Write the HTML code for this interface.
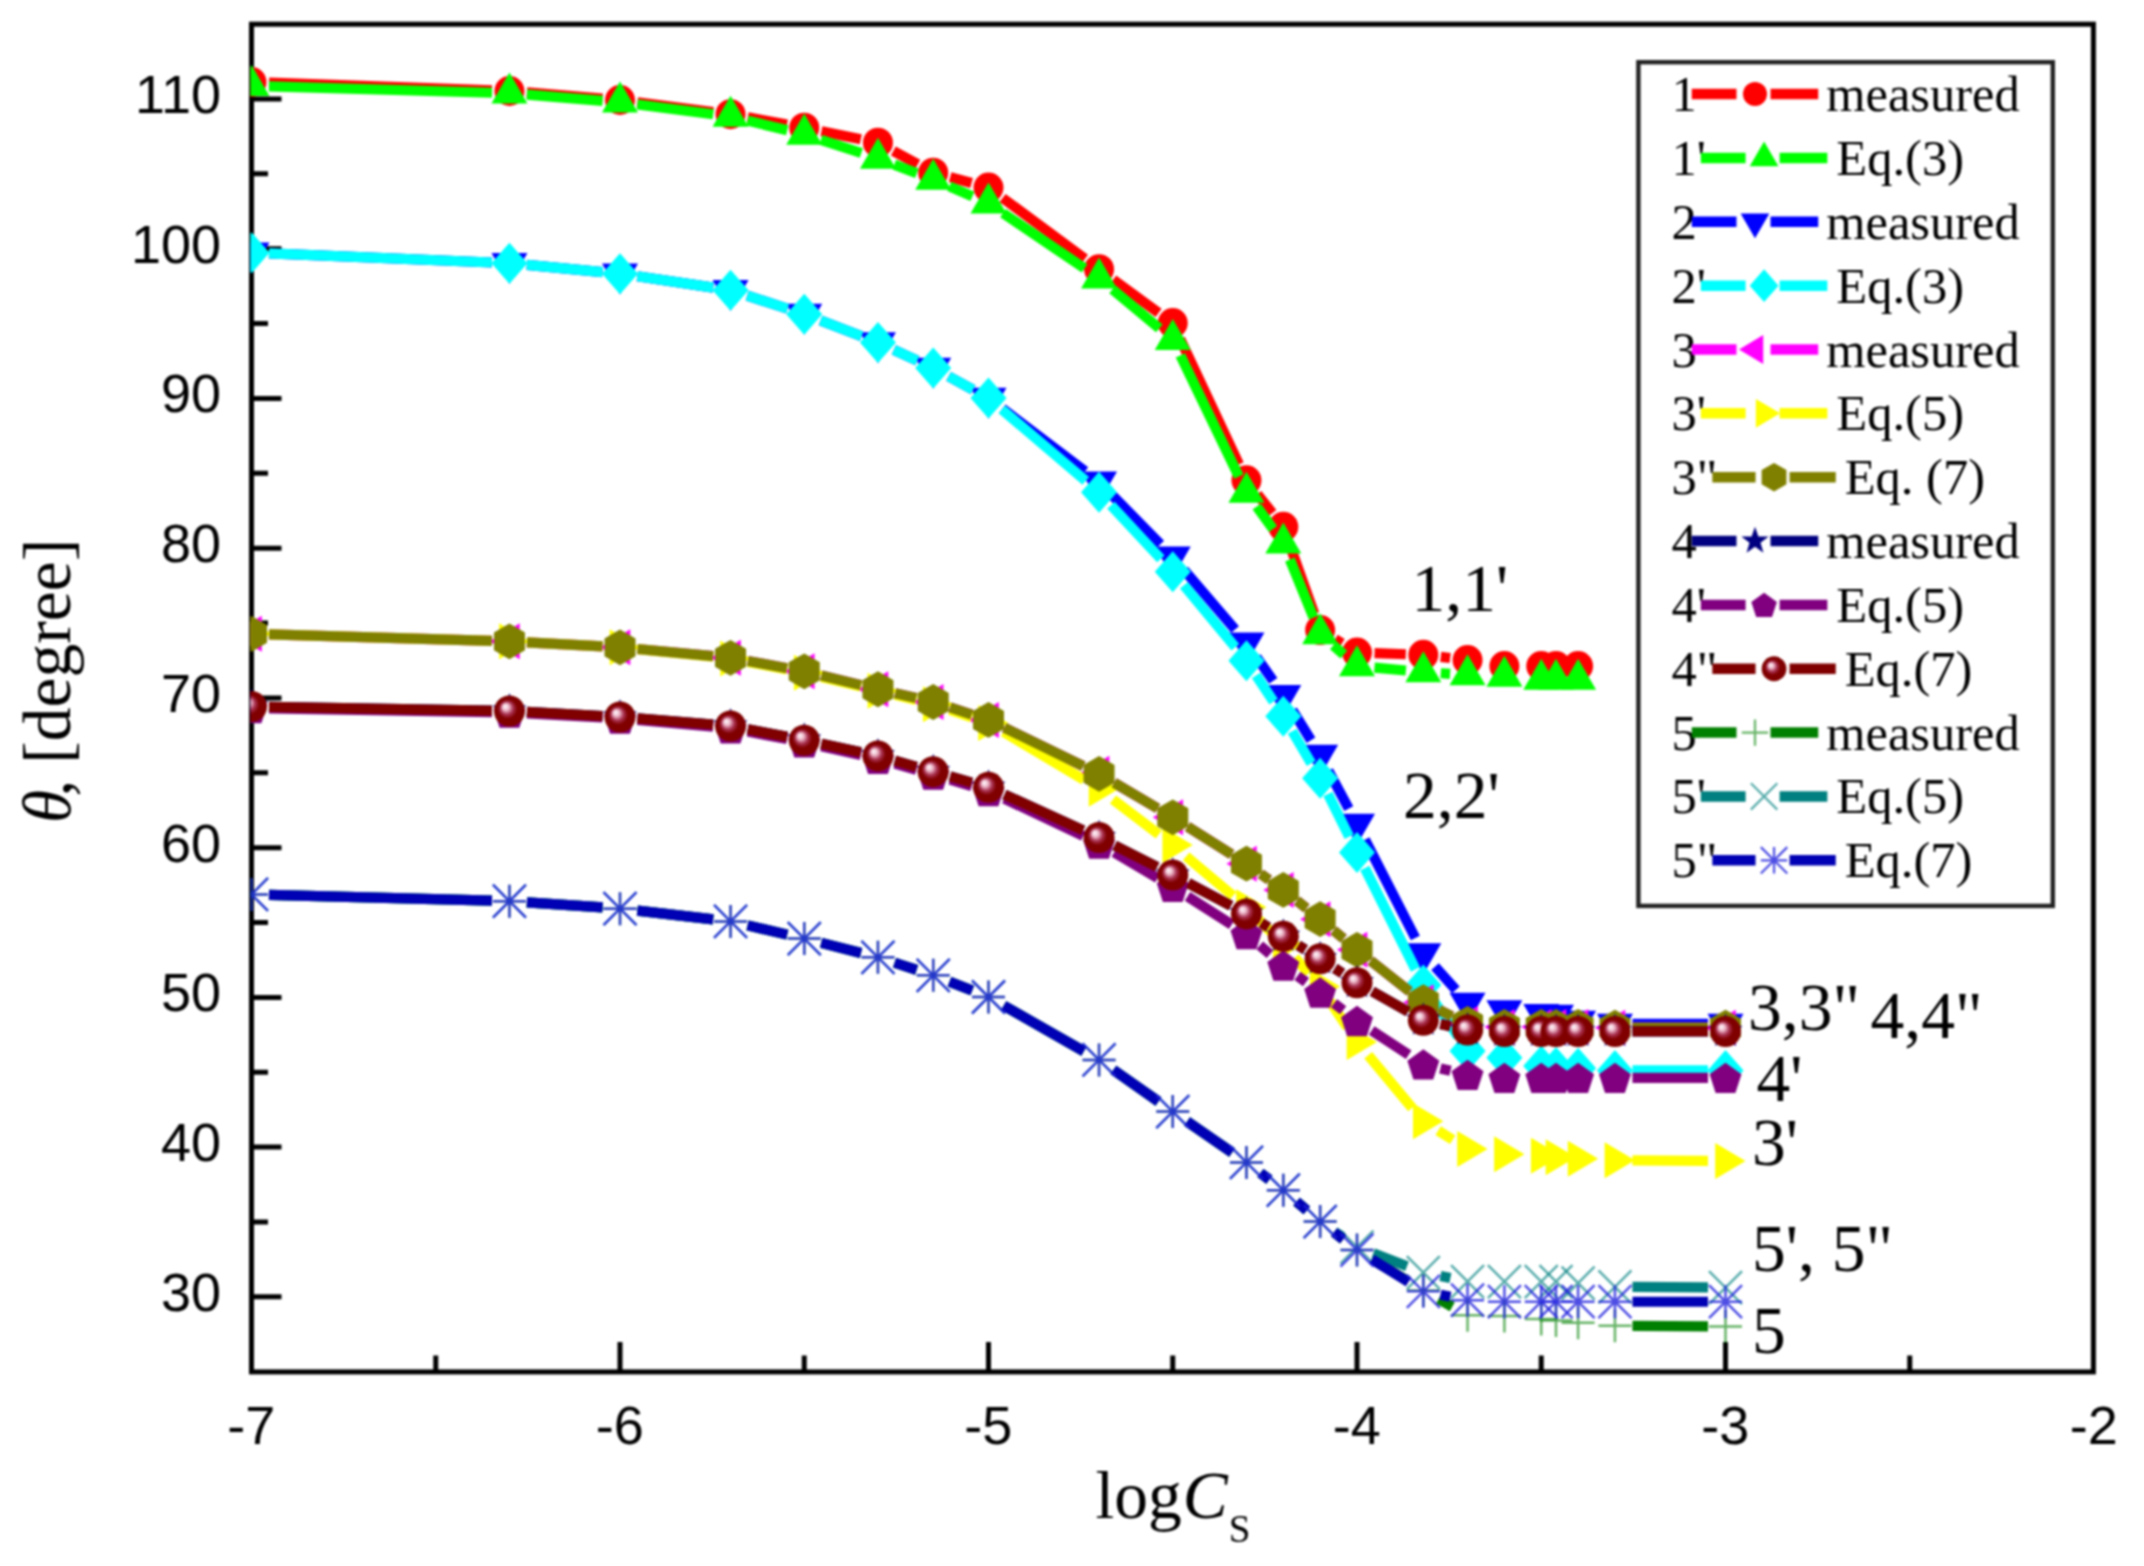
<!DOCTYPE html>
<html lang="en"><head><meta charset="utf-8"><title>Contact angle versus logCs</title>
<style>html,body{margin:0;padding:0;background:#fff}body{width:2144px;height:1566px;overflow:hidden}svg{display:block;filter:blur(0.9px)}text{fill:#000}.ser{font-family:"Liberation Serif",serif}.san{font-family:"Liberation Sans",sans-serif}</style>
</head><body>
<svg width="2144" height="1566" viewBox="0 0 2144 1566">
<defs>
<radialGradient id="sph" cx="0.5" cy="0.5" r="0.5" fx="0.35" fy="0.34"><stop offset="0" stop-color="#fff"/><stop offset="0.2" stop-color="#f0c0d0"/><stop offset="0.42" stop-color="#a83050"/><stop offset="0.62" stop-color="#800000"/><stop offset="1" stop-color="#800000"/></radialGradient>
<clipPath id="clip"><rect x="250.4" y="24.2" width="1843" height="1347.7"/></clipPath>
</defs>
<rect width="2144" height="1566" fill="#fff"/>
<g>
<g stroke="#000" stroke-width="5.0" fill="none">
<rect x="251.5" y="24.2" width="1841.9" height="1347.7"/>
<path d="M251.5 1296.84h30M251.5 1221.98h16.5M251.5 1147.11h30M251.5 1072.24h16.5M251.5 997.38h30M251.5 922.51h16.5M251.5 847.65h30M251.5 772.79h16.5M251.5 697.92h30M251.5 623.06h16.5M251.5 548.19h30M251.5 473.33h16.5M251.5 398.46h30M251.5 323.6h16.5M251.5 248.73h30M251.5 173.87h16.5M251.5 99h30M435.75 1371.9v-16.5M620 1371.9v-30M804.25 1371.9v-16.5M988.5 1371.9v-30M1172.75 1371.9v-16.5M1357 1371.9v-30M1541.25 1371.9v-16.5M1725.5 1371.9v-30M1909.75 1371.9v-16.5"/>
</g>
<g class="san" font-size="54" text-anchor="end">
<text x="221" y="1310.84">30</text>
<text x="221" y="1161.11">40</text>
<text x="221" y="1011.38">50</text>
<text x="221" y="861.65">60</text>
<text x="221" y="711.92">70</text>
<text x="221" y="562.19">80</text>
<text x="221" y="412.46">90</text>
<text x="221" y="262.73">100</text>
<text x="221" y="113">110</text>
</g>
<g class="san" font-size="54" text-anchor="middle">
<text x="251.2" y="1444.3">-7</text>
<text x="619.7" y="1444.3">-6</text>
<text x="988.2" y="1444.3">-5</text>
<text x="1356.7" y="1444.3">-4</text>
<text x="1725.2" y="1444.3">-3</text>
<text x="2093.7" y="1444.3">-2</text>
</g>
<text class="ser" font-size="67.5" font-style="italic" transform="translate(70.3 823) rotate(-90)">θ</text>
<text class="ser" font-size="67.5" transform="translate(70.3 796.5) rotate(-90)">,</text>
<text class="ser" font-size="67.5" transform="translate(70.3 763.7) rotate(-90)">[degree]</text>
<text class="ser" font-size="67.5" x="1095.5" y="1517.7">log<tspan font-style="italic" dx="1">C</tspan><tspan font-size="39" dy="24.6" dx="1">S</tspan></text>
<g clip-path="url(#clip)">
<g><path d="M268.99 82.64L491.96 90.4M526.89 92.43L602.56 98.58M637.36 102.23L713.19 111.99M747.76 117.37L787.04 124.55M821.4 131.19L860.8 139.19M893.34 151.01L917.84 164.29M950.12 177.2L971.61 183.03M1002.58 198L1084.97 258.82M1113.17 279.55L1158.63 312.79M1180.18 338.97L1239.02 464.52M1257.33 494.07L1272.42 513.08M1289.18 543.27L1314.27 613.63M1335.09 639.22L1342.06 643.47M1374.49 653.17L1405.84 654.23M1440.71 656.88L1450.17 658" stroke="#ff0000" stroke-width="10.2" fill="none"/>
<circle cx="251.5" cy="82.03" r="15" fill="#ff0000"/>
<circle cx="509.45" cy="91.01" r="15" fill="#ff0000"/>
<circle cx="620" cy="100" r="15" fill="#ff0000"/>
<circle cx="730.55" cy="114.22" r="15" fill="#ff0000"/>
<circle cx="804.25" cy="127.7" r="15" fill="#ff0000"/>
<circle cx="877.95" cy="142.68" r="15" fill="#ff0000"/>
<circle cx="933.22" cy="172.63" r="15" fill="#ff0000"/>
<circle cx="988.5" cy="187.6" r="15" fill="#ff0000"/>
<circle cx="1099.05" cy="269.22" r="15" fill="#ff0000"/>
<circle cx="1172.75" cy="323.12" r="15" fill="#ff0000"/>
<circle cx="1246.45" cy="480.36" r="15" fill="#ff0000"/>
<circle cx="1283.3" cy="526.78" r="15" fill="#ff0000"/>
<circle cx="1320.15" cy="630.11" r="15" fill="#ff0000"/>
<circle cx="1357" cy="652.57" r="15" fill="#ff0000"/>
<circle cx="1423.33" cy="654.82" r="15" fill="#ff0000"/>
<circle cx="1467.55" cy="660.06" r="15" fill="#ff0000"/>
<circle cx="1504.4" cy="666.05" r="15" fill="#ff0000"/>
<circle cx="1541.25" cy="666.05" r="15" fill="#ff0000"/>
<circle cx="1555.99" cy="666.05" r="15" fill="#ff0000"/>
<circle cx="1578.1" cy="666.05" r="15" fill="#ff0000"/>
</g>
<g><path d="M268.99 86.28L491.96 92.75M526.89 94.68L602.56 100.83M637.36 104.48L713.19 114.24M747.55 120.62L787.25 130.29M820.89 139.85L861.31 152.99M894.31 164.61L916.86 173.16M949.28 186.32L972.44 196.37M1002.99 213.14L1084.56 268.39M1112.5 289.4L1159.3 328.4M1180.35 355.36L1238.85 476.58M1256.71 506.52L1273.04 529.08M1289.89 559.47L1313.56 617.65M1333.33 645.37L1343.82 654.54M1374.43 667.63L1405.9 670.47M1440.79 673.23L1450.09 673.85" stroke="#00ff00" stroke-width="10.2" fill="none"/>
<polygon points="251.5,65.07 233.5,96.07 269.5,96.07" fill="#00ff00"/>
<polygon points="509.45,72.56 491.45,103.56 527.45,103.56" fill="#00ff00"/>
<polygon points="620,81.54 602,112.54 638,112.54" fill="#00ff00"/>
<polygon points="730.55,95.77 712.55,126.77 748.55,126.77" fill="#00ff00"/>
<polygon points="804.25,113.74 786.25,144.74 822.25,144.74" fill="#00ff00"/>
<polygon points="877.95,137.7 859.95,168.7 895.95,168.7" fill="#00ff00"/>
<polygon points="933.22,158.67 915.22,189.67 951.22,189.67" fill="#00ff00"/>
<polygon points="988.5,182.62 970.5,213.62 1006.5,213.62" fill="#00ff00"/>
<polygon points="1099.05,257.5 1081.05,288.5 1117.05,288.5" fill="#00ff00"/>
<polygon points="1172.75,318.9 1154.75,349.9 1190.75,349.9" fill="#00ff00"/>
<polygon points="1246.45,471.64 1228.45,502.64 1264.45,502.64" fill="#00ff00"/>
<polygon points="1283.3,522.56 1265.3,553.56 1301.3,553.56" fill="#00ff00"/>
<polygon points="1320.15,613.16 1302.15,644.16 1338.15,644.16" fill="#00ff00"/>
<polygon points="1357,645.35 1339,676.35 1375,676.35" fill="#00ff00"/>
<polygon points="1423.33,651.34 1405.33,682.34 1441.33,682.34" fill="#00ff00"/>
<polygon points="1467.55,654.34 1449.55,685.34 1485.55,685.34" fill="#00ff00"/>
<polygon points="1504.4,655.83 1486.4,686.83 1522.4,686.83" fill="#00ff00"/>
<polygon points="1541.25,658.83 1523.25,689.83 1559.25,689.83" fill="#00ff00"/>
<polygon points="1555.99,658.83 1537.99,689.83 1573.99,689.83" fill="#00ff00"/>
<polygon points="1578.1,658.83 1560.1,689.83 1596.1,689.83" fill="#00ff00"/>
</g>
<g><path d="M268.99 253.45L491.96 262.51M526.87 264.88L602.58 272.06M637.31 276.29L713.24 287.6M747.19 295.59L787.61 308.73M820.58 320.44L861.62 336.29M893.85 349.91L917.33 360.73M948.61 376.39L973.11 389.66M1002.44 408.58L1085.11 471.28M1111.33 494.33L1160.47 544.26M1184.13 570.03L1235.07 629.55M1256.52 657.16L1273.23 680.94M1292.47 710.16L1310.98 740.25M1328.4 770.58L1348.75 808.61M1364.98 839.62L1415.35 938M1435 966.61L1455.88 989.95M1632.45 1023.95L1708 1023.95" stroke="#0000ff" stroke-width="10.2" fill="none"/>
<polygon points="251.5,273.44 233.5,242.44 269.5,242.44" fill="#0000ff"/>
<polygon points="509.45,283.93 491.45,252.93 527.45,252.93" fill="#0000ff"/>
<polygon points="620,294.41 602,263.41 638,263.41" fill="#0000ff"/>
<polygon points="730.55,310.88 712.55,279.88 748.55,279.88" fill="#0000ff"/>
<polygon points="804.25,334.84 786.25,303.84 822.25,303.84" fill="#0000ff"/>
<polygon points="877.95,363.29 859.95,332.29 895.95,332.29" fill="#0000ff"/>
<polygon points="933.22,388.75 915.22,357.75 951.22,357.75" fill="#0000ff"/>
<polygon points="988.5,418.7 970.5,387.7 1006.5,387.7" fill="#0000ff"/>
<polygon points="1099.05,502.56 1081.05,471.56 1117.05,471.56" fill="#0000ff"/>
<polygon points="1172.75,577.43 1154.75,546.43 1190.75,546.43" fill="#0000ff"/>
<polygon points="1246.45,663.54 1228.45,632.54 1264.45,632.54" fill="#0000ff"/>
<polygon points="1283.3,715.95 1265.3,684.95 1301.3,684.95" fill="#0000ff"/>
<polygon points="1320.15,775.85 1302.15,744.85 1338.15,744.85" fill="#0000ff"/>
<polygon points="1357,844.74 1339,813.74 1375,813.74" fill="#0000ff"/>
<polygon points="1423.33,974.27 1405.33,943.27 1441.33,943.27" fill="#0000ff"/>
<polygon points="1467.55,1023.69 1449.55,992.69 1485.55,992.69" fill="#0000ff"/>
<polygon points="1504.4,1031.18 1486.4,1000.18 1522.4,1000.18" fill="#0000ff"/>
<polygon points="1541.25,1034.92 1523.25,1003.92 1559.25,1003.92" fill="#0000ff"/>
<polygon points="1555.99,1035.67 1537.99,1004.67 1573.99,1004.67" fill="#0000ff"/>
<polygon points="1578.1,1041.66 1560.1,1010.66 1596.1,1010.66" fill="#0000ff"/>
<polygon points="1614.95,1044.65 1596.95,1013.65 1632.95,1013.65" fill="#0000ff"/>
<polygon points="1725.5,1044.65 1707.5,1013.65 1743.5,1013.65" fill="#0000ff"/>
</g>
<g><path d="M268.99 253.45L491.96 262.51M526.87 264.88L602.58 272.06M637.31 276.29L713.24 287.6M747.19 295.59L787.61 308.73M820.58 320.44L861.62 336.29M893.85 349.91L917.33 360.73M948.61 376.39L973.11 389.66M1001.81 409.36L1085.74 480.98M1110.96 505.17L1160.84 558.89M1183.9 585.19L1235.3 647.33M1256.14 675.38L1273.61 701.65M1292.23 731.27L1311.22 763.31M1327.94 794.04L1349.21 836.82M1364.83 868.14L1415.5 969.37M1433.08 999.55L1457.8 1036.38M1632.45 1070.38L1708 1070.38" stroke="#00ffff" stroke-width="10.2" fill="none"/>
<polygon points="251.5,232.24 269.5,252.74 251.5,273.24 233.5,252.74" fill="#00ffff"/>
<polygon points="509.45,242.73 527.45,263.23 509.45,283.73 491.45,263.23" fill="#00ffff"/>
<polygon points="620,253.21 638,273.71 620,294.21 602,273.71" fill="#00ffff"/>
<polygon points="730.55,269.68 748.55,290.18 730.55,310.68 712.55,290.18" fill="#00ffff"/>
<polygon points="804.25,293.64 822.25,314.14 804.25,334.64 786.25,314.14" fill="#00ffff"/>
<polygon points="877.95,322.09 895.95,342.59 877.95,363.09 859.95,342.59" fill="#00ffff"/>
<polygon points="933.22,347.55 951.22,368.05 933.22,388.55 915.22,368.05" fill="#00ffff"/>
<polygon points="988.5,377.5 1006.5,398 988.5,418.5 970.5,398" fill="#00ffff"/>
<polygon points="1099.05,471.84 1117.05,492.34 1099.05,512.84 1081.05,492.34" fill="#00ffff"/>
<polygon points="1172.75,551.21 1190.75,571.71 1172.75,592.21 1154.75,571.71" fill="#00ffff"/>
<polygon points="1246.45,640.31 1264.45,660.81 1246.45,681.31 1228.45,660.81" fill="#00ffff"/>
<polygon points="1283.3,695.72 1301.3,716.22 1283.3,736.72 1265.3,716.22" fill="#00ffff"/>
<polygon points="1320.15,757.87 1338.15,778.37 1320.15,798.87 1302.15,778.37" fill="#00ffff"/>
<polygon points="1357,831.99 1375,852.49 1357,872.99 1339,852.49" fill="#00ffff"/>
<polygon points="1423.33,964.52 1441.33,985.02 1423.33,1005.52 1405.33,985.02" fill="#00ffff"/>
<polygon points="1467.55,1030.41 1485.55,1050.91 1467.55,1071.41 1449.55,1050.91" fill="#00ffff"/>
<polygon points="1504.4,1037.15 1522.4,1057.65 1504.4,1078.15 1486.4,1057.65" fill="#00ffff"/>
<polygon points="1541.25,1045.38 1559.25,1065.88 1541.25,1086.38 1523.25,1065.88" fill="#00ffff"/>
<polygon points="1555.99,1046.88 1573.99,1067.38 1555.99,1087.88 1537.99,1067.38" fill="#00ffff"/>
<polygon points="1578.1,1047.63 1596.1,1068.13 1578.1,1088.63 1560.1,1068.13" fill="#00ffff"/>
<polygon points="1614.95,1049.88 1632.95,1070.38 1614.95,1090.88 1596.95,1070.38" fill="#00ffff"/>
<polygon points="1725.5,1049.88 1743.5,1070.38 1725.5,1090.88 1707.5,1070.38" fill="#00ffff"/>
</g>
<g><path d="M268.99 634.36L491.96 640.84M526.92 642.29L602.53 646.39M637.42 648.99L713.13 656.16M747.76 660.96L787.04 668.15M821.25 675.44L860.95 685.12M895 693.19L916.17 698.07M949.87 707.4L971.86 714.55M1004.23 727.63L1083.32 766.2M1114.13 782.76L1157.67 808.42M1187.56 826.63L1231.64 854.4M1260.71 873.86L1269.04 879.79M1297.02 900.8L1306.43 908.26M1333.6 930.33L1343.55 938.63M1370.73 960.68L1409.6 991.39M1439.04 1009.95L1451.84 1016.24M1632.45 1027.7L1708 1027.7" stroke="#ff00ff" stroke-width="10.2" fill="none"/>
<polygon points="231.5,633.86 261.8,615.86 261.8,651.86" fill="#ff00ff"/>
<polygon points="489.45,641.34 519.75,623.34 519.75,659.34" fill="#ff00ff"/>
<polygon points="600,647.33 630.3,629.33 630.3,665.33" fill="#ff00ff"/>
<polygon points="710.55,657.82 740.85,639.82 740.85,675.82" fill="#ff00ff"/>
<polygon points="784.25,671.29 814.55,653.29 814.55,689.29" fill="#ff00ff"/>
<polygon points="857.95,689.26 888.25,671.26 888.25,707.26" fill="#ff00ff"/>
<polygon points="913.22,701.99 943.52,683.99 943.52,719.99" fill="#ff00ff"/>
<polygon points="968.5,719.96 998.8,701.96 998.8,737.96" fill="#ff00ff"/>
<polygon points="1079.05,773.87 1109.35,755.87 1109.35,791.87" fill="#ff00ff"/>
<polygon points="1152.75,817.3 1183.05,799.3 1183.05,835.3" fill="#ff00ff"/>
<polygon points="1226.45,863.72 1256.75,845.72 1256.75,881.72" fill="#ff00ff"/>
<polygon points="1263.3,889.93 1293.6,871.93 1293.6,907.93" fill="#ff00ff"/>
<polygon points="1300.15,919.13 1330.45,901.13 1330.45,937.13" fill="#ff00ff"/>
<polygon points="1337,949.83 1367.3,931.83 1367.3,967.83" fill="#ff00ff"/>
<polygon points="1403.33,1002.24 1433.63,984.24 1433.63,1020.24" fill="#ff00ff"/>
<polygon points="1447.55,1023.95 1477.85,1005.95 1477.85,1041.95" fill="#ff00ff"/>
<polygon points="1484.4,1026.95 1514.7,1008.95 1514.7,1044.95" fill="#ff00ff"/>
<polygon points="1521.25,1026.95 1551.55,1008.95 1551.55,1044.95" fill="#ff00ff"/>
<polygon points="1535.99,1026.95 1566.29,1008.95 1566.29,1044.95" fill="#ff00ff"/>
<polygon points="1558.1,1026.95 1588.4,1008.95 1588.4,1044.95" fill="#ff00ff"/>
<polygon points="1594.95,1027.7 1625.25,1009.7 1625.25,1045.7" fill="#ff00ff"/>
<polygon points="1705.5,1027.7 1735.8,1009.7 1735.8,1045.7" fill="#ff00ff"/>
</g>
<g><path d="M268.99 634.36L491.96 640.84M526.92 642.29L602.53 646.39M637.41 649.1L713.14 656.8M747.73 661.88L787.07 669.47M821.25 676.94L860.95 686.62M894.95 694.91L916.22 700.09M949.8 709.85L971.92 717.34M1003.53 731.92L1084.02 779.89M1112.97 799.45L1158.83 834.4M1186.13 856.28L1233.07 895.87M1258.73 919.62L1271.02 932.12M1294.85 957.73L1308.6 973.37M1329.84 1001.09L1347.31 1027.35M1368.22 1055.35L1412.11 1107.86M1438.16 1130.58L1452.72 1139.71M1632.45 1160.35L1708 1160.86" stroke="#ffff00" stroke-width="10.2" fill="none"/>
<polygon points="271.5,633.86 241.2,615.86 241.2,651.86" fill="#ffff00"/>
<polygon points="529.45,641.34 499.15,623.34 499.15,659.34" fill="#ffff00"/>
<polygon points="640,647.33 609.7,629.33 609.7,665.33" fill="#ffff00"/>
<polygon points="750.55,658.57 720.25,640.57 720.25,676.57" fill="#ffff00"/>
<polygon points="824.25,672.79 793.95,654.79 793.95,690.79" fill="#ffff00"/>
<polygon points="897.95,690.76 867.65,672.76 867.65,708.76" fill="#ffff00"/>
<polygon points="953.22,704.24 922.92,686.24 922.92,722.24" fill="#ffff00"/>
<polygon points="1008.5,722.96 978.2,704.96 978.2,740.96" fill="#ffff00"/>
<polygon points="1119.05,788.85 1088.75,770.85 1088.75,806.85" fill="#ffff00"/>
<polygon points="1192.75,845 1162.45,827 1162.45,863" fill="#ffff00"/>
<polygon points="1266.45,907.15 1236.15,889.15 1236.15,925.15" fill="#ffff00"/>
<polygon points="1303.3,944.59 1273,926.59 1273,962.59" fill="#ffff00"/>
<polygon points="1340.15,986.52 1309.85,968.52 1309.85,1004.52" fill="#ffff00"/>
<polygon points="1377,1041.92 1346.7,1023.92 1346.7,1059.92" fill="#ffff00"/>
<polygon points="1443.33,1121.29 1413.03,1103.29 1413.03,1139.29" fill="#ffff00"/>
<polygon points="1487.55,1149 1457.25,1131 1457.25,1167" fill="#ffff00"/>
<polygon points="1524.4,1154.24 1494.1,1136.24 1494.1,1172.24" fill="#ffff00"/>
<polygon points="1561.25,1155.73 1530.95,1137.73 1530.95,1173.73" fill="#ffff00"/>
<polygon points="1575.99,1157.23 1545.69,1139.23 1545.69,1175.23" fill="#ffff00"/>
<polygon points="1598.1,1158.73 1567.8,1140.73 1567.8,1176.73" fill="#ffff00"/>
<polygon points="1634.95,1160.23 1604.65,1142.23 1604.65,1178.23" fill="#ffff00"/>
<polygon points="1745.5,1160.98 1715.2,1142.98 1715.2,1178.98" fill="#ffff00"/>
</g>
<g><path d="M268.99 634.36L491.96 640.84M526.92 642.29L602.53 646.39M637.42 648.99L713.13 656.16M747.76 660.96L787.04 668.15M821.25 675.44L860.95 685.12M895 693.19L916.17 698.07M949.87 707.4L971.86 714.55M1004.23 727.63L1083.32 766.2M1114.13 782.76L1157.67 808.42M1187.56 826.63L1231.64 854.4M1260.71 873.86L1269.04 879.79M1297.02 900.8L1306.43 908.26M1333.6 930.33L1343.55 938.63M1370.73 960.68L1409.6 991.39M1439.04 1009.95L1451.84 1016.24M1632.45 1027.7L1708 1027.7" stroke="#808000" stroke-width="10.2" fill="none"/>
<polygon points="251.5,615.96 267,624.91 267,642.81 251.5,651.76 236,642.81 236,624.91" fill="#808000"/>
<polygon points="509.45,623.44 524.95,632.39 524.95,650.29 509.45,659.24 493.95,650.29 493.95,632.39" fill="#808000"/>
<polygon points="620,629.43 635.5,638.38 635.5,656.28 620,665.23 604.5,656.28 604.5,638.38" fill="#808000"/>
<polygon points="730.55,639.92 746.05,648.87 746.05,666.77 730.55,675.72 715.05,666.77 715.05,648.87" fill="#808000"/>
<polygon points="804.25,653.39 819.75,662.34 819.75,680.24 804.25,689.19 788.75,680.24 788.75,662.34" fill="#808000"/>
<polygon points="877.95,671.36 893.45,680.31 893.45,698.21 877.95,707.16 862.45,698.21 862.45,680.31" fill="#808000"/>
<polygon points="933.22,684.09 948.73,693.04 948.73,710.94 933.22,719.89 917.72,710.94 917.72,693.04" fill="#808000"/>
<polygon points="988.5,702.06 1004,711.01 1004,728.91 988.5,737.86 973,728.91 973,711.01" fill="#808000"/>
<polygon points="1099.05,755.97 1114.55,764.92 1114.55,782.82 1099.05,791.77 1083.55,782.82 1083.55,764.92" fill="#808000"/>
<polygon points="1172.75,799.4 1188.25,808.35 1188.25,826.25 1172.75,835.2 1157.25,826.25 1157.25,808.35" fill="#808000"/>
<polygon points="1246.45,845.82 1261.95,854.77 1261.95,872.67 1246.45,881.62 1230.95,872.67 1230.95,854.77" fill="#808000"/>
<polygon points="1283.3,872.03 1298.8,880.98 1298.8,898.88 1283.3,907.83 1267.8,898.88 1267.8,880.98" fill="#808000"/>
<polygon points="1320.15,901.23 1335.65,910.18 1335.65,928.08 1320.15,937.03 1304.65,928.08 1304.65,910.18" fill="#808000"/>
<polygon points="1357,931.93 1372.5,940.88 1372.5,958.78 1357,967.73 1341.5,958.78 1341.5,940.88" fill="#808000"/>
<polygon points="1423.33,984.34 1438.83,993.29 1438.83,1011.19 1423.33,1020.14 1407.83,1011.19 1407.83,993.29" fill="#808000"/>
<polygon points="1467.55,1006.05 1483.05,1015 1483.05,1032.9 1467.55,1041.86 1452.05,1032.9 1452.05,1015" fill="#808000"/>
<polygon points="1504.4,1009.05 1519.9,1018 1519.9,1035.9 1504.4,1044.85 1488.9,1035.9 1488.9,1018" fill="#808000"/>
<polygon points="1541.25,1009.05 1556.75,1018 1556.75,1035.9 1541.25,1044.85 1525.75,1035.9 1525.75,1018" fill="#808000"/>
<polygon points="1555.99,1009.05 1571.49,1018 1571.49,1035.9 1555.99,1044.85 1540.49,1035.9 1540.49,1018" fill="#808000"/>
<polygon points="1578.1,1009.05 1593.6,1018 1593.6,1035.9 1578.1,1044.85 1562.6,1035.9 1562.6,1018" fill="#808000"/>
<polygon points="1614.95,1009.8 1630.45,1018.75 1630.45,1036.65 1614.95,1045.6 1599.45,1036.65 1599.45,1018.75" fill="#808000"/>
<polygon points="1725.5,1009.8 1741,1018.75 1741,1036.65 1725.5,1045.6 1710,1036.65 1710,1018.75" fill="#808000"/>
</g>
<g><path d="M269 706.79L491.95 710.67M526.92 711.92L602.53 716.02M637.44 718.39L713.11 724.53M747.73 729.27L787.07 736.86M821.36 743.83L860.84 752.25M894.78 760.69L916.39 766.84M950.06 776.41L971.67 782.56M1004.44 794.58L1083.11 830.28M1114.65 845.44L1157.15 867.03M1188.22 883.13L1230.98 905.71M1261.39 923L1268.36 927.24M1298.24 945.46L1305.21 949.71M1334.82 968.35L1342.33 973.23M1372.24 991.38L1408.09 1011.61M1440.42 1023.97L1450.46 1026.18M1632.45 1031.44L1708 1031.44" stroke="#000080" stroke-width="10.2" fill="none"/>
<polygon points="251.5,688.48 255.73,700.66 268.62,700.92 258.35,708.71 262.08,721.05 251.5,713.68 240.92,721.05 244.65,708.71 234.38,700.92 247.27,700.66" fill="#000080"/>
<polygon points="509.45,692.98 513.68,705.15 526.57,705.42 516.3,713.2 520.03,725.54 509.45,718.18 498.87,725.54 502.6,713.2 492.33,705.42 505.22,705.15" fill="#000080"/>
<polygon points="620,698.97 624.23,711.14 637.12,711.41 626.85,719.19 630.58,731.53 620,724.17 609.42,731.53 613.15,719.19 602.88,711.41 615.77,711.14" fill="#000080"/>
<polygon points="730.55,707.95 734.78,720.13 747.67,720.39 737.4,728.18 741.13,740.51 730.55,733.15 719.97,740.51 723.7,728.18 713.43,720.39 726.32,720.13" fill="#000080"/>
<polygon points="804.25,722.18 808.48,734.35 821.37,734.62 811.1,742.4 814.83,754.74 804.25,747.38 793.67,754.74 797.4,742.4 787.13,734.62 800.02,734.35" fill="#000080"/>
<polygon points="877.95,737.9 882.18,750.08 895.07,750.34 884.8,758.13 888.53,770.46 877.95,763.1 867.37,770.46 871.1,758.13 860.83,750.34 873.72,750.08" fill="#000080"/>
<polygon points="933.22,753.63 937.46,765.8 950.34,766.06 940.07,773.85 943.81,786.19 933.22,778.83 922.64,786.19 926.38,773.85 916.11,766.06 928.99,765.8" fill="#000080"/>
<polygon points="988.5,769.35 992.73,781.53 1005.62,781.79 995.35,789.57 999.08,801.91 988.5,794.55 977.92,801.91 981.65,789.57 971.38,781.79 984.27,781.53" fill="#000080"/>
<polygon points="1099.05,819.52 1103.28,831.69 1116.17,831.95 1105.9,839.74 1109.63,852.08 1099.05,844.72 1088.47,852.08 1092.2,839.74 1081.93,831.95 1094.82,831.69" fill="#000080"/>
<polygon points="1172.75,856.95 1176.98,869.13 1189.87,869.39 1179.6,877.18 1183.33,889.52 1172.75,882.15 1162.17,889.52 1165.9,877.18 1155.63,869.39 1168.52,869.13" fill="#000080"/>
<polygon points="1246.45,895.89 1250.68,908.06 1263.57,908.33 1253.3,916.11 1257.03,928.45 1246.45,921.09 1235.87,928.45 1239.6,916.11 1229.33,908.33 1242.22,908.06" fill="#000080"/>
<polygon points="1283.3,918.35 1287.53,930.53 1300.42,930.79 1290.15,938.58 1293.88,950.91 1283.3,943.55 1272.72,950.91 1276.45,938.58 1266.18,930.79 1279.07,930.53" fill="#000080"/>
<polygon points="1320.15,940.81 1324.38,952.99 1337.27,953.25 1327,961.04 1330.73,973.38 1320.15,966.01 1309.57,973.38 1313.3,961.04 1303.03,953.25 1315.92,952.99" fill="#000080"/>
<polygon points="1357,964.77 1361.23,976.95 1374.12,977.21 1363.85,985 1367.58,997.34 1357,989.97 1346.42,997.34 1350.15,985 1339.88,977.21 1352.77,976.95" fill="#000080"/>
<polygon points="1423.33,1002.21 1427.56,1014.39 1440.45,1014.65 1430.18,1022.44 1433.91,1034.77 1423.33,1027.41 1412.75,1034.77 1416.48,1022.44 1406.21,1014.65 1419.1,1014.39" fill="#000080"/>
<polygon points="1467.55,1011.95 1471.78,1024.12 1484.67,1024.38 1474.4,1032.17 1478.13,1044.51 1467.55,1037.15 1456.97,1044.51 1460.7,1032.17 1450.43,1024.38 1463.32,1024.12" fill="#000080"/>
<polygon points="1504.4,1013.44 1508.63,1025.62 1521.52,1025.88 1511.25,1033.67 1514.98,1046 1504.4,1038.64 1493.82,1046 1497.55,1033.67 1487.28,1025.88 1500.17,1025.62" fill="#000080"/>
<polygon points="1541.25,1013.44 1545.48,1025.62 1558.37,1025.88 1548.1,1033.67 1551.83,1046 1541.25,1038.64 1530.67,1046 1534.4,1033.67 1524.13,1025.88 1537.02,1025.62" fill="#000080"/>
<polygon points="1555.99,1013.44 1560.22,1025.62 1573.11,1025.88 1562.84,1033.67 1566.57,1046 1555.99,1038.64 1545.41,1046 1549.14,1033.67 1538.87,1025.88 1551.76,1025.62" fill="#000080"/>
<polygon points="1578.1,1013.44 1582.33,1025.62 1595.22,1025.88 1584.95,1033.67 1588.68,1046 1578.1,1038.64 1567.52,1046 1571.25,1033.67 1560.98,1025.88 1573.87,1025.62" fill="#000080"/>
<polygon points="1614.95,1013.44 1619.18,1025.62 1632.07,1025.88 1621.8,1033.67 1625.53,1046 1614.95,1038.64 1604.37,1046 1608.1,1033.67 1597.83,1025.88 1610.72,1025.62" fill="#000080"/>
<polygon points="1725.5,1013.44 1729.73,1025.62 1742.62,1025.88 1732.35,1033.67 1736.08,1046 1725.5,1038.64 1714.92,1046 1718.65,1033.67 1708.38,1025.88 1721.27,1025.62" fill="#000080"/>
</g>
<g><path d="M269 708.29L491.95 712.17M526.92 713.42L602.53 717.52M637.43 720L713.12 726.66M747.73 731.52L787.07 739.11M821.33 746.24L860.87 755.08M894.78 763.69L916.39 769.83M950 779.62L971.73 786.1M1004.31 798.59L1083.24 836.01M1114.13 852.39L1157.67 878.05M1187.49 896.37L1231.71 924.67M1259.76 945.47L1269.99 954.19M1297.42 975.88L1306.03 982.18M1334 1003.2L1343.15 1010.26M1371.64 1030.55L1408.69 1054.8M1440.36 1068.42L1450.52 1070.83M1632.45 1077.87L1708 1077.87" stroke="#800080" stroke-width="10.2" fill="none"/>
<polygon points="251.5,692.78 267.48,704.39 261.37,723.17 241.63,723.17 235.52,704.39" fill="#800080"/>
<polygon points="509.45,697.27 525.43,708.88 519.32,727.66 499.58,727.66 493.47,708.88" fill="#800080"/>
<polygon points="620,703.26 635.98,714.87 629.87,733.65 610.13,733.65 604.02,714.87" fill="#800080"/>
<polygon points="730.55,712.99 746.53,724.6 740.42,743.39 720.68,743.39 714.57,724.6" fill="#800080"/>
<polygon points="804.25,727.22 820.23,738.83 814.12,757.61 794.38,757.61 788.27,738.83" fill="#800080"/>
<polygon points="877.95,743.69 893.93,755.3 887.82,774.08 868.08,774.08 861.97,755.3" fill="#800080"/>
<polygon points="933.22,759.42 949.2,771.03 943.1,789.81 923.35,789.81 917.25,771.03" fill="#800080"/>
<polygon points="988.5,775.89 1004.48,787.5 998.37,806.28 978.63,806.28 972.52,787.5" fill="#800080"/>
<polygon points="1099.05,828.3 1115.03,839.91 1108.92,858.69 1089.18,858.69 1083.07,839.91" fill="#800080"/>
<polygon points="1172.75,871.73 1188.73,883.34 1182.62,902.12 1162.88,902.12 1156.77,883.34" fill="#800080"/>
<polygon points="1246.45,918.9 1262.43,930.51 1256.32,949.29 1236.58,949.29 1230.47,930.51" fill="#800080"/>
<polygon points="1283.3,950.35 1299.28,961.96 1293.17,980.74 1273.43,980.74 1267.32,961.96" fill="#800080"/>
<polygon points="1320.15,977.3 1336.13,988.91 1330.02,1007.69 1310.28,1007.69 1304.17,988.91" fill="#800080"/>
<polygon points="1357,1005.76 1372.98,1017.36 1366.87,1036.15 1347.13,1036.15 1341.02,1017.36" fill="#800080"/>
<polygon points="1423.33,1049.18 1439.31,1060.79 1433.2,1079.57 1413.46,1079.57 1407.35,1060.79" fill="#800080"/>
<polygon points="1467.55,1059.67 1483.53,1071.27 1477.42,1090.06 1457.68,1090.06 1451.57,1071.27" fill="#800080"/>
<polygon points="1504.4,1062.66 1520.38,1074.27 1514.27,1093.05 1494.53,1093.05 1488.42,1074.27" fill="#800080"/>
<polygon points="1541.25,1062.66 1557.23,1074.27 1551.12,1093.05 1531.38,1093.05 1525.27,1074.27" fill="#800080"/>
<polygon points="1555.99,1062.66 1571.97,1074.27 1565.86,1093.05 1546.12,1093.05 1540.01,1074.27" fill="#800080"/>
<polygon points="1578.1,1062.66 1594.08,1074.27 1587.97,1093.05 1568.23,1093.05 1562.12,1074.27" fill="#800080"/>
<polygon points="1614.95,1062.66 1630.93,1074.27 1624.82,1093.05 1605.08,1093.05 1598.97,1074.27" fill="#800080"/>
<polygon points="1725.5,1062.66 1741.48,1074.27 1735.37,1093.05 1715.63,1093.05 1709.52,1074.27" fill="#800080"/>
</g>
<g><path d="M269 706.79L491.95 710.67M526.92 711.92L602.53 716.02M637.44 718.39L713.11 724.53M747.73 729.27L787.07 736.86M821.36 743.83L860.84 752.25M894.78 760.69L916.39 766.84M950.06 776.41L971.67 782.56M1004.44 794.58L1083.11 830.28M1114.65 845.44L1157.15 867.03M1188.22 883.13L1230.98 905.71M1261.39 923L1268.36 927.24M1298.24 945.46L1305.21 949.71M1334.82 968.35L1342.33 973.23M1372.24 991.38L1408.09 1011.61M1440.42 1023.97L1450.46 1026.18M1632.45 1031.44L1708 1031.44" stroke="#800000" stroke-width="10.2" fill="none"/>
<circle cx="251.5" cy="706.48" r="15.5" fill="url(#sph)"/>
<circle cx="509.45" cy="710.98" r="15.5" fill="url(#sph)"/>
<circle cx="620" cy="716.97" r="15.5" fill="url(#sph)"/>
<circle cx="730.55" cy="725.95" r="15.5" fill="url(#sph)"/>
<circle cx="804.25" cy="740.18" r="15.5" fill="url(#sph)"/>
<circle cx="877.95" cy="755.9" r="15.5" fill="url(#sph)"/>
<circle cx="933.22" cy="771.63" r="15.5" fill="url(#sph)"/>
<circle cx="988.5" cy="787.35" r="15.5" fill="url(#sph)"/>
<circle cx="1099.05" cy="837.52" r="15.5" fill="url(#sph)"/>
<circle cx="1172.75" cy="874.95" r="15.5" fill="url(#sph)"/>
<circle cx="1246.45" cy="913.89" r="15.5" fill="url(#sph)"/>
<circle cx="1283.3" cy="936.35" r="15.5" fill="url(#sph)"/>
<circle cx="1320.15" cy="958.81" r="15.5" fill="url(#sph)"/>
<circle cx="1357" cy="982.77" r="15.5" fill="url(#sph)"/>
<circle cx="1423.33" cy="1020.21" r="15.5" fill="url(#sph)"/>
<circle cx="1467.55" cy="1029.95" r="15.5" fill="url(#sph)"/>
<circle cx="1504.4" cy="1031.44" r="15.5" fill="url(#sph)"/>
<circle cx="1541.25" cy="1031.44" r="15.5" fill="url(#sph)"/>
<circle cx="1555.99" cy="1031.44" r="15.5" fill="url(#sph)"/>
<circle cx="1578.1" cy="1031.44" r="15.5" fill="url(#sph)"/>
<circle cx="1614.95" cy="1031.44" r="15.5" fill="url(#sph)"/>
<circle cx="1725.5" cy="1031.44" r="15.5" fill="url(#sph)"/>
</g>
<g><path d="M268.99 894.88L491.96 900.7M526.91 902.34L602.54 907.46M637.39 910.65L713.16 919.37M747.59 925.36L787.21 934.62M821.21 942.91L860.99 953.01M894.59 962.73L916.58 969.88M949.51 981.68L972.21 990.6M1003.71 1005.65L1083.84 1051.24M1113.38 1069.94L1158.42 1101.51M1187.15 1121.51L1232.05 1152.53M1260.44 1172.99L1269.31 1179.66M1296.61 1201.54L1306.84 1210.26M1334 1232.32L1343.15 1239.38M1371.94 1259.19L1408.39 1281.4M1438.61 1299.05L1452.27 1306.68M1632.45 1325.82L1708 1326.33" stroke="#008000" stroke-width="10.2" fill="none"/>
<path d="M235 894.42H268M251.5 877.92V910.92" stroke="#008000" stroke-width="2.5" stroke-opacity=".6" fill="none"/>
<path d="M492.95 901.16H525.95M509.45 884.66V917.66" stroke="#008000" stroke-width="2.5" stroke-opacity=".6" fill="none"/>
<path d="M603.5 908.65H636.5M620 892.15V925.15" stroke="#008000" stroke-width="2.5" stroke-opacity=".6" fill="none"/>
<path d="M714.05 921.38H747.05M730.55 904.88V937.88" stroke="#008000" stroke-width="2.5" stroke-opacity=".6" fill="none"/>
<path d="M787.75 938.6H820.75M804.25 922.1V955.1" stroke="#008000" stroke-width="2.5" stroke-opacity=".6" fill="none"/>
<path d="M861.45 957.32H894.45M877.95 940.82V973.82" stroke="#008000" stroke-width="2.5" stroke-opacity=".6" fill="none"/>
<path d="M916.72 975.29H949.72M933.22 958.79V991.79" stroke="#008000" stroke-width="2.5" stroke-opacity=".6" fill="none"/>
<path d="M972 997H1005M988.5 980.5V1013.5" stroke="#008000" stroke-width="2.5" stroke-opacity=".6" fill="none"/>
<path d="M1082.55 1059.89H1115.55M1099.05 1043.39V1076.39" stroke="#008000" stroke-width="2.5" stroke-opacity=".6" fill="none"/>
<path d="M1156.25 1111.56H1189.25M1172.75 1095.06V1128.06" stroke="#008000" stroke-width="2.5" stroke-opacity=".6" fill="none"/>
<path d="M1229.95 1162.47H1262.95M1246.45 1145.97V1178.97" stroke="#008000" stroke-width="2.5" stroke-opacity=".6" fill="none"/>
<path d="M1266.8 1190.18H1299.8M1283.3 1173.68V1206.68" stroke="#008000" stroke-width="2.5" stroke-opacity=".6" fill="none"/>
<path d="M1303.65 1221.62H1336.65M1320.15 1205.12V1238.12" stroke="#008000" stroke-width="2.5" stroke-opacity=".6" fill="none"/>
<path d="M1340.5 1250.08H1373.5M1357 1233.58V1266.58" stroke="#008000" stroke-width="2.5" stroke-opacity=".6" fill="none"/>
<path d="M1406.83 1290.51H1439.83M1423.33 1274.01V1307.01" stroke="#008000" stroke-width="2.5" stroke-opacity=".6" fill="none"/>
<path d="M1451.05 1315.22H1484.05M1467.55 1298.72V1331.72" stroke="#008000" stroke-width="2.5" stroke-opacity=".6" fill="none"/>
<path d="M1487.9 1315.97H1520.9M1504.4 1299.47V1332.47" stroke="#008000" stroke-width="2.5" stroke-opacity=".6" fill="none"/>
<path d="M1524.75 1318.96H1557.75M1541.25 1302.46V1335.46" stroke="#008000" stroke-width="2.5" stroke-opacity=".6" fill="none"/>
<path d="M1539.49 1320.46H1572.49M1555.99 1303.96V1336.96" stroke="#008000" stroke-width="2.5" stroke-opacity=".6" fill="none"/>
<path d="M1561.6 1322.71H1594.6M1578.1 1306.21V1339.21" stroke="#008000" stroke-width="2.5" stroke-opacity=".6" fill="none"/>
<path d="M1598.45 1325.7H1631.45M1614.95 1309.2V1342.2" stroke="#008000" stroke-width="2.5" stroke-opacity=".6" fill="none"/>
<path d="M1709 1326.45H1742M1725.5 1309.95V1342.95" stroke="#008000" stroke-width="2.5" stroke-opacity=".6" fill="none"/>
</g>
<g><path d="M268.99 894.88L491.96 900.7M526.91 902.34L602.54 907.46M637.39 910.65L713.16 919.37M747.59 925.36L787.21 934.62M821.21 942.91L860.99 953.01M894.59 962.73L916.58 969.88M949.51 981.68L972.21 990.6M1003.71 1005.65L1083.84 1051.24M1113.38 1069.94L1158.42 1101.51M1187.15 1121.51L1232.05 1152.53M1260.44 1172.99L1269.31 1179.66M1296.61 1201.54L1306.84 1210.26M1334.55 1231.57L1342.6 1237.14M1373.34 1253.35L1406.99 1266.27M1440.48 1276.02L1450.4 1278.04M1632.45 1286.88L1708 1287.4" stroke="#008080" stroke-width="10.2" fill="none"/>
<path d="M235 877.92L268 910.92M235 910.92L268 877.92" stroke="#008080" stroke-width="2.5" stroke-opacity=".65" fill="none"/>
<path d="M492.95 884.66L525.95 917.66M492.95 917.66L525.95 884.66" stroke="#008080" stroke-width="2.5" stroke-opacity=".65" fill="none"/>
<path d="M603.5 892.15L636.5 925.15M603.5 925.15L636.5 892.15" stroke="#008080" stroke-width="2.5" stroke-opacity=".65" fill="none"/>
<path d="M714.05 904.88L747.05 937.88M714.05 937.88L747.05 904.88" stroke="#008080" stroke-width="2.5" stroke-opacity=".65" fill="none"/>
<path d="M787.75 922.1L820.75 955.1M787.75 955.1L820.75 922.1" stroke="#008080" stroke-width="2.5" stroke-opacity=".65" fill="none"/>
<path d="M861.45 940.82L894.45 973.82M861.45 973.82L894.45 940.82" stroke="#008080" stroke-width="2.5" stroke-opacity=".65" fill="none"/>
<path d="M916.72 958.79L949.72 991.79M916.72 991.79L949.72 958.79" stroke="#008080" stroke-width="2.5" stroke-opacity=".65" fill="none"/>
<path d="M972 980.5L1005 1013.5M972 1013.5L1005 980.5" stroke="#008080" stroke-width="2.5" stroke-opacity=".65" fill="none"/>
<path d="M1082.55 1043.39L1115.55 1076.39M1082.55 1076.39L1115.55 1043.39" stroke="#008080" stroke-width="2.5" stroke-opacity=".65" fill="none"/>
<path d="M1156.25 1095.06L1189.25 1128.06M1156.25 1128.06L1189.25 1095.06" stroke="#008080" stroke-width="2.5" stroke-opacity=".65" fill="none"/>
<path d="M1229.95 1145.97L1262.95 1178.97M1229.95 1178.97L1262.95 1145.97" stroke="#008080" stroke-width="2.5" stroke-opacity=".65" fill="none"/>
<path d="M1266.8 1173.68L1299.8 1206.68M1266.8 1206.68L1299.8 1173.68" stroke="#008080" stroke-width="2.5" stroke-opacity=".65" fill="none"/>
<path d="M1303.65 1205.12L1336.65 1238.12M1303.65 1238.12L1336.65 1205.12" stroke="#008080" stroke-width="2.5" stroke-opacity=".65" fill="none"/>
<path d="M1340.5 1230.58L1373.5 1263.58M1340.5 1263.58L1373.5 1230.58" stroke="#008080" stroke-width="2.5" stroke-opacity=".65" fill="none"/>
<path d="M1406.83 1256.04L1439.83 1289.04M1406.83 1289.04L1439.83 1256.04" stroke="#008080" stroke-width="2.5" stroke-opacity=".65" fill="none"/>
<path d="M1451.05 1265.02L1484.05 1298.02M1451.05 1298.02L1484.05 1265.02" stroke="#008080" stroke-width="2.5" stroke-opacity=".65" fill="none"/>
<path d="M1487.9 1265.02L1520.9 1298.02M1487.9 1298.02L1520.9 1265.02" stroke="#008080" stroke-width="2.5" stroke-opacity=".65" fill="none"/>
<path d="M1524.75 1265.02L1557.75 1298.02M1524.75 1298.02L1557.75 1265.02" stroke="#008080" stroke-width="2.5" stroke-opacity=".65" fill="none"/>
<path d="M1539.49 1265.02L1572.49 1298.02M1539.49 1298.02L1572.49 1265.02" stroke="#008080" stroke-width="2.5" stroke-opacity=".65" fill="none"/>
<path d="M1561.6 1266.52L1594.6 1299.52M1561.6 1299.52L1594.6 1266.52" stroke="#008080" stroke-width="2.5" stroke-opacity=".65" fill="none"/>
<path d="M1598.45 1270.27L1631.45 1303.27M1598.45 1303.27L1631.45 1270.27" stroke="#008080" stroke-width="2.5" stroke-opacity=".65" fill="none"/>
<path d="M1709 1271.02L1742 1304.02M1709 1304.02L1742 1271.02" stroke="#008080" stroke-width="2.5" stroke-opacity=".65" fill="none"/>
</g>
<g><path d="M268.99 894.88L491.96 900.7M526.91 902.34L602.54 907.46M637.39 910.65L713.16 919.37M747.59 925.36L787.21 934.62M821.21 942.91L860.99 953.01M894.59 962.73L916.58 969.88M949.51 981.68L972.21 990.6M1003.71 1005.65L1083.84 1051.24M1113.38 1069.94L1158.42 1101.51M1187.15 1121.51L1232.05 1152.53M1260.44 1172.99L1269.31 1179.66M1296.61 1201.54L1306.84 1210.26M1334 1232.32L1343.15 1239.38M1371.87 1259.31L1408.46 1282.03M1440.48 1294.74L1450.4 1296.76M1632.45 1301.74L1708 1301.74" stroke="#0000b4" stroke-width="10.2" fill="none"/>
<path d="M235 894.42H268M251.5 877.92V910.92M235 877.92L268 910.92M235 910.92L268 877.92" stroke="#2222dd" stroke-width="2.5" stroke-opacity=".8" fill="none"/>
<path d="M492.95 901.16H525.95M509.45 884.66V917.66M492.95 884.66L525.95 917.66M492.95 917.66L525.95 884.66" stroke="#2222dd" stroke-width="2.5" stroke-opacity=".8" fill="none"/>
<path d="M603.5 908.65H636.5M620 892.15V925.15M603.5 892.15L636.5 925.15M603.5 925.15L636.5 892.15" stroke="#2222dd" stroke-width="2.5" stroke-opacity=".8" fill="none"/>
<path d="M714.05 921.38H747.05M730.55 904.88V937.88M714.05 904.88L747.05 937.88M714.05 937.88L747.05 904.88" stroke="#2222dd" stroke-width="2.5" stroke-opacity=".8" fill="none"/>
<path d="M787.75 938.6H820.75M804.25 922.1V955.1M787.75 922.1L820.75 955.1M787.75 955.1L820.75 922.1" stroke="#2222dd" stroke-width="2.5" stroke-opacity=".8" fill="none"/>
<path d="M861.45 957.32H894.45M877.95 940.82V973.82M861.45 940.82L894.45 973.82M861.45 973.82L894.45 940.82" stroke="#2222dd" stroke-width="2.5" stroke-opacity=".8" fill="none"/>
<path d="M916.72 975.29H949.72M933.22 958.79V991.79M916.72 958.79L949.72 991.79M916.72 991.79L949.72 958.79" stroke="#2222dd" stroke-width="2.5" stroke-opacity=".8" fill="none"/>
<path d="M972 997H1005M988.5 980.5V1013.5M972 980.5L1005 1013.5M972 1013.5L1005 980.5" stroke="#2222dd" stroke-width="2.5" stroke-opacity=".8" fill="none"/>
<path d="M1082.55 1059.89H1115.55M1099.05 1043.39V1076.39M1082.55 1043.39L1115.55 1076.39M1082.55 1076.39L1115.55 1043.39" stroke="#2222dd" stroke-width="2.5" stroke-opacity=".8" fill="none"/>
<path d="M1156.25 1111.56H1189.25M1172.75 1095.06V1128.06M1156.25 1095.06L1189.25 1128.06M1156.25 1128.06L1189.25 1095.06" stroke="#2222dd" stroke-width="2.5" stroke-opacity=".8" fill="none"/>
<path d="M1229.95 1162.47H1262.95M1246.45 1145.97V1178.97M1229.95 1145.97L1262.95 1178.97M1229.95 1178.97L1262.95 1145.97" stroke="#2222dd" stroke-width="2.5" stroke-opacity=".8" fill="none"/>
<path d="M1266.8 1190.18H1299.8M1283.3 1173.68V1206.68M1266.8 1173.68L1299.8 1206.68M1266.8 1206.68L1299.8 1173.68" stroke="#2222dd" stroke-width="2.5" stroke-opacity=".8" fill="none"/>
<path d="M1303.65 1221.62H1336.65M1320.15 1205.12V1238.12M1303.65 1205.12L1336.65 1238.12M1303.65 1238.12L1336.65 1205.12" stroke="#2222dd" stroke-width="2.5" stroke-opacity=".8" fill="none"/>
<path d="M1340.5 1250.08H1373.5M1357 1233.58V1266.58M1340.5 1233.58L1373.5 1266.58M1340.5 1266.58L1373.5 1233.58" stroke="#2222dd" stroke-width="2.5" stroke-opacity=".8" fill="none"/>
<path d="M1406.83 1291.26H1439.83M1423.33 1274.76V1307.76M1406.83 1274.76L1439.83 1307.76M1406.83 1307.76L1439.83 1274.76" stroke="#2222dd" stroke-width="2.5" stroke-opacity=".8" fill="none"/>
<path d="M1451.05 1300.24H1484.05M1467.55 1283.74V1316.74M1451.05 1283.74L1484.05 1316.74M1451.05 1316.74L1484.05 1283.74" stroke="#2222dd" stroke-width="2.5" stroke-opacity=".8" fill="none"/>
<path d="M1487.9 1301.74H1520.9M1504.4 1285.24V1318.24M1487.9 1285.24L1520.9 1318.24M1487.9 1318.24L1520.9 1285.24" stroke="#2222dd" stroke-width="2.5" stroke-opacity=".8" fill="none"/>
<path d="M1524.75 1301.74H1557.75M1541.25 1285.24V1318.24M1524.75 1285.24L1557.75 1318.24M1524.75 1318.24L1557.75 1285.24" stroke="#2222dd" stroke-width="2.5" stroke-opacity=".8" fill="none"/>
<path d="M1539.49 1301.74H1572.49M1555.99 1285.24V1318.24M1539.49 1285.24L1572.49 1318.24M1539.49 1318.24L1572.49 1285.24" stroke="#2222dd" stroke-width="2.5" stroke-opacity=".8" fill="none"/>
<path d="M1561.6 1301.74H1594.6M1578.1 1285.24V1318.24M1561.6 1285.24L1594.6 1318.24M1561.6 1318.24L1594.6 1285.24" stroke="#2222dd" stroke-width="2.5" stroke-opacity=".8" fill="none"/>
<path d="M1598.45 1301.74H1631.45M1614.95 1285.24V1318.24M1598.45 1285.24L1631.45 1318.24M1598.45 1318.24L1631.45 1285.24" stroke="#2222dd" stroke-width="2.5" stroke-opacity=".8" fill="none"/>
<path d="M1709 1301.74H1742M1725.5 1285.24V1318.24M1709 1285.24L1742 1318.24M1709 1318.24L1742 1285.24" stroke="#2222dd" stroke-width="2.5" stroke-opacity=".8" fill="none"/>
</g>
</g>
<g class="ser" font-size="67.5">
<text x="1411.5" y="611.3">1,1'</text>
<text x="1403" y="817.5">2,2'</text>
<text x="1748" y="1030.3">3,3&quot;</text>
<text x="1870.5" y="1037.8">4,4&quot;</text>
<text x="1756.5" y="1100.8">4'</text>
<text x="1752" y="1165.2">3'</text>
<text x="1752" y="1271.2">5', 5&quot;</text>
<text x="1752" y="1353">5</text>
</g>
<rect x="1638.4" y="62.2" width="414.4" height="843.7" fill="#fff" stroke="#222" stroke-width="4.4"/>
<text class="ser" font-size="50.5" x="1671.5" y="111.1">1</text>
<path d="M1691.75 94.1H1736.5M1770.5 94.1H1818.25" stroke="#ff0000" stroke-width="10.5" fill="none"/>
<circle cx="1755" cy="94.1" r="12" fill="#ff0000"/>
<text class="ser" font-size="50.5" x="1826.25" y="111.1">measured</text>
<text class="ser" font-size="50.5" x="1671.5" y="174.95">1'</text>
<path d="M1700.85 157.95H1745.6M1779.6 157.95H1827.35" stroke="#00ff00" stroke-width="10.5" fill="none"/>
<polygon points="1764.1,141.39 1749.7,166.19 1778.5,166.19" fill="#00ff00"/>
<text class="ser" font-size="50.5" x="1836.35" y="174.95">Eq.(3)</text>
<text class="ser" font-size="50.5" x="1671.5" y="238.8">2</text>
<path d="M1691.75 221.8H1736.5M1770.5 221.8H1818.25" stroke="#0000ff" stroke-width="10.5" fill="none"/>
<polygon points="1755,238.36 1740.6,213.56 1769.4,213.56" fill="#0000ff"/>
<text class="ser" font-size="50.5" x="1826.25" y="238.8">measured</text>
<text class="ser" font-size="50.5" x="1671.5" y="302.65">2'</text>
<path d="M1700.85 285.65H1745.6M1779.6 285.65H1827.35" stroke="#00ffff" stroke-width="10.5" fill="none"/>
<polygon points="1764.1,269.25 1778.5,285.65 1764.1,302.05 1749.7,285.65" fill="#00ffff"/>
<text class="ser" font-size="50.5" x="1836.35" y="302.65">Eq.(3)</text>
<text class="ser" font-size="50.5" x="1671.5" y="366.5">3</text>
<path d="M1691.75 349.5H1736.5M1770.5 349.5H1818.25" stroke="#ff00ff" stroke-width="10.5" fill="none"/>
<polygon points="1739,349.5 1763.24,335.1 1763.24,363.9" fill="#ff00ff"/>
<text class="ser" font-size="50.5" x="1826.25" y="366.5">measured</text>
<text class="ser" font-size="50.5" x="1671.5" y="430.35">3'</text>
<path d="M1700.85 413.35H1745.6M1779.6 413.35H1827.35" stroke="#ffff00" stroke-width="10.5" fill="none"/>
<polygon points="1780.1,413.35 1755.86,398.95 1755.86,427.75" fill="#ffff00"/>
<text class="ser" font-size="50.5" x="1836.35" y="430.35">Eq.(5)</text>
<text class="ser" font-size="50.5" x="1671.5" y="494.2">3&quot;</text>
<path d="M1712.35 477.2H1755.55M1789.55 477.2H1835.75" stroke="#808000" stroke-width="10.5" fill="none"/>
<polygon points="1774.05,462.88 1786.45,470.04 1786.45,484.36 1774.05,491.52 1761.65,484.36 1761.65,470.04" fill="#808000"/>
<text class="ser" font-size="50.5" x="1844.75" y="494.2">Eq. (7)</text>
<text class="ser" font-size="50.5" x="1671.5" y="558.05">4</text>
<path d="M1691.75 541.05H1736.5M1770.5 541.05H1818.25" stroke="#000080" stroke-width="10.5" fill="none"/>
<polygon points="1755,526.65 1758.39,536.39 1768.7,536.6 1760.48,542.83 1763.46,552.7 1755,546.81 1746.54,552.7 1749.52,542.83 1741.3,536.6 1751.61,536.39" fill="#000080"/>
<text class="ser" font-size="50.5" x="1826.25" y="558.05">measured</text>
<text class="ser" font-size="50.5" x="1671.5" y="621.9">4'</text>
<path d="M1700.85 604.9H1745.6M1779.6 604.9H1827.35" stroke="#800080" stroke-width="10.5" fill="none"/>
<polygon points="1764.1,592.74 1776.88,602.02 1772,617.05 1756.2,617.05 1751.32,602.02" fill="#800080"/>
<text class="ser" font-size="50.5" x="1836.35" y="621.9">Eq.(5)</text>
<text class="ser" font-size="50.5" x="1671.5" y="685.75">4&quot;</text>
<path d="M1712.35 668.75H1755.55M1789.55 668.75H1835.75" stroke="#800000" stroke-width="10.5" fill="none"/>
<circle cx="1774.05" cy="668.75" r="12.4" fill="url(#sph)"/>
<text class="ser" font-size="50.5" x="1844.75" y="685.75">Eq.(7)</text>
<text class="ser" font-size="50.5" x="1671.5" y="749.6">5</text>
<path d="M1691.75 732.6H1736.5M1770.5 732.6H1818.25" stroke="#008000" stroke-width="10.5" fill="none"/>
<path d="M1741.8 732.6H1768.2M1755 719.4V745.8" stroke="#008000" stroke-width="2.2" stroke-opacity=".6" fill="none"/>
<text class="ser" font-size="50.5" x="1826.25" y="749.6">measured</text>
<text class="ser" font-size="50.5" x="1671.5" y="813.45">5'</text>
<path d="M1700.85 796.45H1745.6M1779.6 796.45H1827.35" stroke="#008080" stroke-width="10.5" fill="none"/>
<path d="M1750.9 783.25L1777.3 809.65M1750.9 809.65L1777.3 783.25" stroke="#008080" stroke-width="2.2" stroke-opacity=".65" fill="none"/>
<text class="ser" font-size="50.5" x="1836.35" y="813.45">Eq.(5)</text>
<text class="ser" font-size="50.5" x="1671.5" y="877.3">5&quot;</text>
<path d="M1712.35 860.3H1755.55M1789.55 860.3H1835.75" stroke="#0000b4" stroke-width="10.5" fill="none"/>
<path d="M1760.85 860.3H1787.25M1774.05 847.1V873.5M1760.85 847.1L1787.25 873.5M1760.85 873.5L1787.25 847.1" stroke="#2222dd" stroke-width="2.2" stroke-opacity=".8" fill="none"/>
<text class="ser" font-size="50.5" x="1844.75" y="877.3">Eq.(7)</text>
</g>
</svg>
</body></html>
